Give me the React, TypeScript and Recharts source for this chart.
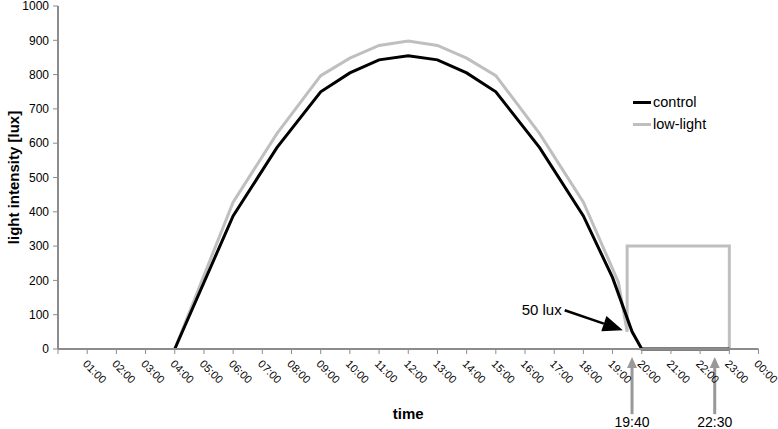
import React from "react"
import { LineChart, Line, XAxis, YAxis, ReferenceLine } from "recharts"

// hours of day (numeric axis) and lux readings
const controlHours = [4, 6, 7.5, 9, 10, 11, 12, 13, 14, 15, 16.5, 18, 19, 19.67, 20, 23]
const controlLux = [0, 388, 587, 750, 805, 843, 855, 843, 805, 750, 587, 388, 208, 50, 0, 0]

const lowLightHours = [4, 6, 7.5, 9, 10, 11, 12, 13, 14, 15, 16.5, 18, 19.2, 19.5, 19.5, 23, 23]
const lowLightLux = [0, 428, 628, 797, 848, 885, 898, 885, 848, 797, 628, 428, 195, 50, 300, 300, 0]

const hourTicks = [0, 1, 2, 3, 4, 5, 6, 7, 8, 9, 10, 11, 12, 13, 14, 15, 16, 17, 18, 19, 20, 21, 22, 23, 24]
const luxTicks = [0, 100, 200, 300, 400, 500, 600, 700, 800, 900, 1000]

const markers = [
  { hour: 19 + 40 / 60, label: "19:40" },
  { hour: 22.5, label: "22:30" },
]

const seriesInfo = [
  { name: "control", color: "#000" },
  { name: "low-light", color: "#bfbfbf" },
]

const controlData = controlHours.map((h, i) => ({ hour: h, lux: controlLux[i] }))
const lowLightData = lowLightHours.map((h, i) => ({ hour: h, lux: lowLightLux[i] }))

const FONT = "'Liberation Sans', Arial, sans-serif"
const AXIS = "#8c8c8c"

const fmtHour = (h: number) => (h === 0 ? "" : String(h % 24).padStart(2, "0") + ":00")

function HourTick({ x, y, payload }: any) {
  const label = fmtHour(payload.value)
  if (!label) return null
  return (
    <text
      x={x + 4}
      y={y + 11}
      transform={`rotate(45 ${x} ${y})`}
      fontSize={11}
      fontFamily={FONT}
      fill="#000"
      textAnchor="start"
    >
      {label}
    </text>
  )
}

function MarkerArrow(props: any) {
  const { x1, y1, y2, label } = props
  return (
    <g>
      <line x1={x1} y1={y1 + 8} x2={x1} y2={y2} stroke="#999" strokeWidth={3} />
      <polygon points={`${x1},${y1} ${x1 - 5},${y1 + 11} ${x1 + 5},${y1 + 11}`} fill="#999" />
      <text x={x1} y={y2 + 13} textAnchor="middle" fontSize={14} fontFamily={FONT} fill="#000">
        {label}
      </text>
    </g>
  )
}

function LuxArrow(props: any) {
  const { x1, y1, x2, y2 } = props
  const dx = x2 - x1
  const dy = y2 - y1
  const len = Math.sqrt(dx * dx + dy * dy)
  const ux = dx / len
  const uy = dy / len
  const bx = x2 - ux * 20
  const by = y2 - uy * 20
  return (
    <g>
      <line x1={x1} y1={y1} x2={bx} y2={by} stroke="#000" strokeWidth={2.5} />
      <polygon
        points={`${x2},${y2} ${bx - uy * 8},${by + ux * 8} ${bx + uy * 8},${by - ux * 8}`}
        fill="#000"
      />
      <text x={x1 - 3} y={y1 + 5} textAnchor="end" fontSize={15} fontFamily={FONT} fill="#000">
        50 lux
      </text>
    </g>
  )
}

export default function App() {
  return (
    <div style={{ position: "absolute", left: 0, top: 0, width: 778, height: 429, background: "#fff" }}>
      <LineChart width={778} height={429} margin={{ top: 6, right: 19.5, left: 0, bottom: 10 }}>
        <XAxis
          type="number"
          dataKey="hour"
          domain={[0, 24]}
          ticks={hourTicks}
          interval={0}
          tick={<HourTick />}
          tickSize={5}
          tickMargin={0}
          height={70}
          axisLine={{ stroke: AXIS, strokeWidth: 2 }}
          tickLine={{ stroke: AXIS }}
          allowDuplicatedCategory={false}
          label={{
            value: "time",
            position: "insideBottom",
            offset: 0,
            style: { fontFamily: FONT, fontSize: 15, fontWeight: "bold", fill: "#000" },
          }}
        />
        <YAxis
          type="number"
          domain={[0, 1000]}
          ticks={luxTicks}
          interval={0}
          width={58}
          tickSize={5}
          tickMargin={4}
          axisLine={{ stroke: AXIS, strokeWidth: 2 }}
          tickLine={{ stroke: AXIS }}
          tick={{ fontSize: 12, fontFamily: FONT, fill: "#000" }}
          label={{
            value: "light intensity [lux]",
            angle: -90,
            position: "insideLeft",
            offset: 14,
            style: { textAnchor: "middle", fontFamily: FONT, fontSize: 15, fontWeight: "bold", fill: "#000" },
          }}
        />
        <Line
          data={lowLightData}
          dataKey="lux"
          name="low-light"
          stroke="#bfbfbf"
          strokeWidth={3}
          dot={false}
          isAnimationActive={false}
        />
        <Line
          data={controlData}
          dataKey="lux"
          name="control"
          stroke="#000"
          strokeWidth={3}
          dot={false}
          isAnimationActive={false}
        />
        <ReferenceLine
          segment={[{ x: 17.36, y: 113 }, { x: 19.35, y: 55 }]}
          ifOverflow="visible"
          shape={(p: any) => <LuxArrow {...p} />}
        />
        {markers.map((m) => (
          <ReferenceLine
            key={m.label}
            segment={[{ x: m.hour, y: -23 }, { x: m.hour, y: -190 }]}
            ifOverflow="visible"
            shape={(p: any) => <MarkerArrow {...p} label={m.label} />}
          />
        ))}
      </LineChart>
      <div style={{ position: "absolute", left: 633, top: 91, fontFamily: FONT, fontSize: 14.5 }}>
        {seriesInfo.map((it) => (
          <div key={it.name} style={{ display: "flex", alignItems: "center", height: 22 }}>
            <span style={{ display: "inline-block", width: 18, height: 3, background: it.color, marginRight: 2 }} />
            <span>{it.name}</span>
          </div>
        ))}
      </div>
    </div>
  )
}
